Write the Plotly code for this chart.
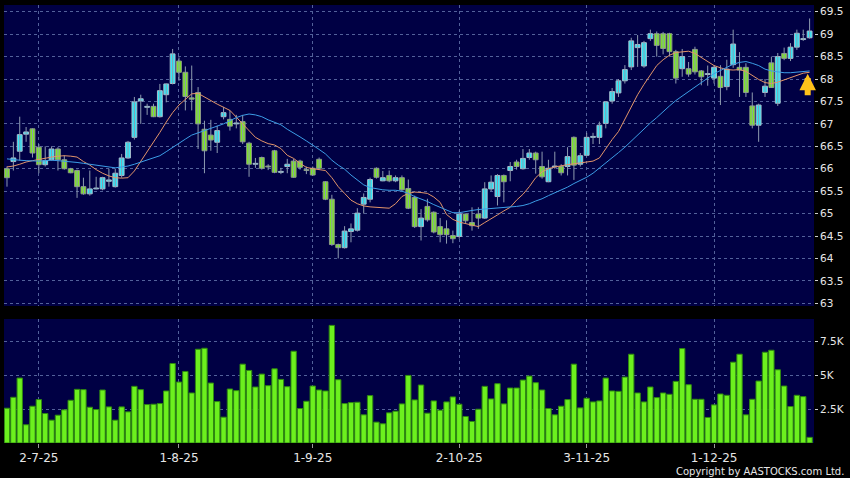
import plotly.graph_objects as go
from plotly.subplots import make_subplots

# daily candles, oldest first (one entry per trading day)
opens = [66.0, 66.16, 66.39, 66.77, 66.89, 66.48, 66.09, 66.2, 66.44, 66.2,
         66.0, 65.96, 65.6, 65.44, 65.55, 65.55, 65.72, 65.6, 65.85, 66.24,
         66.7, 67.51, 67.37, 67.39, 67.16, 67.65, 67.9, 68.4, 68.15, 67.58,
         67.7, 66.88, 66.75, 66.59, 67.16, 67.1, 67.0, 67.05, 66.57, 66.1,
         66.25, 66.06, 66.4, 65.92, 66.05, 66.17, 66.17, 65.98, 66.01, 66.21,
         65.71, 65.32, 64.31, 64.24, 64.6, 64.63, 65.21, 65.32, 66.01, 65.73,
         65.85, 65.73, 65.8, 65.56, 65.36, 64.71, 65.16, 65.03, 64.71, 64.66,
         64.51, 64.49, 64.99, 64.8, 64.99, 64.9, 65.55, 65.38, 65.85, 65.96,
         66.15, 66.0, 66.25, 66.35, 66.05, 65.71, 66.04, 66.05, 66.05, 66.7,
         66.1, 66.3, 66.7, 66.7, 67.01, 67.51, 67.69, 67.96, 68.27, 68.7,
         68.29, 68.9, 69.01, 69.01, 69.01, 68.61, 68.23, 68.23, 68.66, 68.18,
         68.1, 68.02, 68.06, 67.83, 68.32, 68.26, 68.26, 67.4, 66.97, 67.7,
         68.36, 67.46, 68.57, 68.46, 68.71, 68.88, 68.92]
highs = [66.05, 66.6, 67.16, 66.93, 66.9, 66.55, 66.5, 66.5, 66.48, 66.3,
         66.02, 65.98, 65.8, 65.96, 65.82, 65.82, 66.0, 66.0, 66.33, 66.62,
         67.6, 67.65, 67.45, 67.45, 67.89, 67.9, 68.67, 68.48, 68.28, 68.3,
         67.82, 67.07, 67.09, 66.96, 67.38, 67.3, 67.2, 67.2, 66.6, 66.24,
         66.27, 66.1, 66.42, 66.02, 66.22, 66.22, 66.2, 66.05, 66.05, 66.25,
         65.72, 65.42, 64.33, 64.72, 64.78, 65.12, 65.45, 65.8, 66.03, 65.95,
         65.96, 65.85, 65.85, 65.76, 65.4, 65.1, 65.33, 65.05, 64.9, 64.85,
         64.62, 65.07, 65.0, 65.14, 65.14, 65.7, 65.85, 65.88, 65.87, 66.15,
         66.2, 66.44, 66.44, 66.38, 66.38, 66.2, 66.38, 66.1, 66.48, 66.72,
         66.35, 66.8, 66.8, 67.05, 67.5, 67.8, 68.0, 68.31, 68.92, 68.98,
         68.85, 69.1, 69.06, 69.05, 69.03, 68.65, 68.67, 68.38, 68.72, 68.2,
         68.3, 68.3, 68.31, 68.43, 69.1, 68.6, 68.35, 67.7, 67.45, 68.0,
         68.5, 68.58, 68.7, 68.8, 69.1, 69.1, 69.35]
lows = [65.6, 65.96, 66.18, 66.6, 66.25, 65.9, 66.05, 66.18, 65.96, 65.98,
        65.9, 65.35, 65.42, 65.4, 65.54, 65.52, 65.6, 65.58, 65.8, 66.22,
        66.65, 67.0, 67.2, 67.15, 67.14, 67.48, 67.88, 67.96, 67.3, 67.3,
        66.44, 65.9, 66.4, 66.35, 67.1, 66.85, 66.9, 66.55, 65.82, 66.02,
        65.98, 65.97, 65.9, 65.88, 65.9, 65.8, 65.98, 65.88, 65.84, 65.98,
        65.3, 64.28, 64.0, 64.22, 64.36, 64.6, 65.0, 65.25, 65.78, 65.72,
        65.7, 65.7, 65.5, 65.1, 64.68, 64.4, 64.82, 64.56, 64.36, 64.33,
        64.34, 64.44, 64.78, 64.62, 64.66, 64.88, 65.5, 65.18, 65.25, 65.72,
        65.98, 65.98, 66.2, 65.89, 65.78, 65.7, 66.0, 65.85, 65.85, 65.75,
        66.05, 66.28, 66.55, 66.55, 66.9, 67.45, 67.6, 67.9, 68.2, 68.27,
        68.25, 68.85, 68.5, 68.55, 68.5, 67.9, 68.05, 68.05, 68.1, 67.86,
        67.85, 67.9, 67.42, 67.75, 68.25, 67.6, 67.6, 66.9, 66.6, 67.6,
        67.8, 67.4, 68.42, 68.4, 68.65, 68.85, 68.9]
closes = [65.8, 66.24, 66.76, 66.82, 66.35, 66.09, 66.18, 66.44, 66.2, 66.0,
          65.91, 65.6, 65.44, 65.55, 65.55, 65.8, 65.75, 65.9, 66.24, 66.59,
          67.49, 67.56, 67.37, 67.16, 67.74, 67.89, 68.56, 68.15, 67.61, 67.55,
          67.0, 66.4, 66.64, 66.85, 67.25, 66.95, 67.0, 66.6, 66.1, 66.1,
          66.01, 66.04, 65.92, 65.93, 66.1, 65.81, 66.03, 65.96, 65.86, 66.01,
          65.32, 64.31, 64.24, 64.61, 64.66, 65.01, 65.36, 65.76, 65.81, 65.8,
          65.73, 65.8, 65.53, 65.12, 64.71, 64.9, 64.86, 64.59, 64.53, 64.53,
          64.44, 64.99, 64.84, 64.73, 64.9, 65.55, 65.7, 65.85, 65.71, 66.05,
          66.05, 66.23, 66.35, 66.2, 65.82, 66.01, 66.05, 65.91, 66.27, 66.08,
          66.29, 66.7, 66.72, 66.97, 67.49, 67.72, 67.96, 68.21, 68.85, 68.77,
          68.81, 69.01, 68.75, 68.68, 68.61, 68.02, 68.5, 68.11, 68.16, 68.05,
          68.12, 68.26, 67.81, 68.22, 68.78, 68.2, 67.7, 66.97, 67.42, 67.84,
          67.81, 68.5, 68.46, 68.71, 69.02, 68.9, 69.07]

volumes = [2573, 3381, 4802, 1348, 2720, 3210, 2180, 1690, 2058, 2450,
           3160, 3969, 3945, 2646, 2475, 3920, 2670, 1690, 2670, 2303,
           4190, 3945, 2842, 2867, 2916, 3847, 5880, 4508, 5292, 3700,
           6934, 7007, 4435, 3063, 1911, 3994, 3871, 5831, 5366, 4141,
           5096, 4239, 5488, 4704, 4165, 6787, 2548, 3087, 4214, 3920,
           3847, 8698, 4680, 2916, 2989, 3014, 2083, 3504, 1544, 1421,
           2230, 2352, 2891, 4998, 3185, 4288, 2205, 3112, 2426, 3038,
           3406, 2867, 1960, 1593, 2499, 4190, 3259, 4386, 2891, 4067,
           4067, 4655, 4949, 4459, 3920, 2548, 2083, 2720, 3210, 5831,
           2597, 3308, 3038, 3112, 4802, 3847, 3822, 4876, 6566, 3700,
           3038, 4141, 3357, 3700, 3602, 4557, 6983, 4312, 3234, 3234,
           1887, 2818, 3626, 3528, 5978, 6566, 2083, 3234, 4582, 6713,
           6860, 5415, 4214, 2695, 3528, 3430, 417]

ma_short = [66.04, 66.06, 66.1, 66.15, 66.18, 66.21, 66.24, 66.26, 66.28, 66.29,
            66.28, 66.26, 66.16, 66.08, 65.98, 65.9, 65.84, 65.8, 65.79, 65.8,
            65.95, 66.16, 66.37, 66.59, 66.81, 67.04, 67.25, 67.42, 67.55, 67.67,
            67.68, 67.6, 67.51, 67.44, 67.37, 67.3, 67.15, 67.0, 66.84, 66.7,
            66.62, 66.56, 66.53, 66.45, 66.3, 66.23, 66.12, 66.03, 66.0, 65.98,
            65.96, 65.8, 65.6, 65.45, 65.3, 65.22, 65.17, 65.15, 65.14, 65.12,
            65.12, 65.22, 65.38, 65.45, 65.48, 65.47, 65.45, 65.37, 65.25, 64.98,
            64.87, 64.81, 64.78, 64.75, 64.71, 64.8, 64.88, 64.97, 65.06, 65.14,
            65.3, 65.43, 65.6, 65.8, 65.93, 66.0, 66.04, 66.07, 66.09, 66.11,
            66.13, 66.14, 66.17, 66.24, 66.45, 66.65, 66.83, 67.1, 67.35, 67.65,
            67.88, 68.1, 68.3, 68.43, 68.53, 68.59, 68.61, 68.62, 68.57, 68.48,
            68.39, 68.3, 68.25, 68.21, 68.2, 68.21, 68.17, 68.08, 67.99, 67.92,
            67.9, 67.93, 67.98, 68.03, 68.08, 68.13, 68.15]
ma_long = [66.22, 66.2, 66.19, 66.18, 66.17, 66.17, 66.18, 66.19, 66.18, 66.17,
           66.16, 66.14, 66.12, 66.1, 66.07, 66.05, 66.03, 66.02, 66.04, 66.06,
           66.1, 66.15, 66.2, 66.25, 66.29, 66.38, 66.48, 66.58, 66.66, 66.75,
           66.8, 66.85, 66.9, 66.94, 67.0, 67.07, 67.14, 67.19, 67.22, 67.2,
           67.16, 67.09, 67.04, 66.98, 66.88, 66.8, 66.71, 66.62, 66.53, 66.43,
           66.33, 66.19, 66.08, 65.99, 65.86, 65.74, 65.64, 65.58, 65.55, 65.53,
           65.52, 65.52, 65.5, 65.45, 65.38, 65.33, 65.27, 65.2, 65.14, 65.08,
           65.02, 65.02, 65.05, 65.07, 65.09, 65.1, 65.12, 65.12, 65.13, 65.14,
           65.16, 65.18, 65.22, 65.28, 65.33, 65.4, 65.46, 65.53, 65.59, 65.67,
           65.74, 65.81, 65.9, 66.01, 66.12, 66.25, 66.36, 66.48, 66.62, 66.75,
           66.88, 67.02, 67.14, 67.28, 67.4, 67.52, 67.62, 67.71, 67.8, 67.92,
           68.01, 68.12, 68.19, 68.26, 68.33, 68.37, 68.39, 68.35, 68.3, 68.22,
           68.18, 68.16, 68.14, 68.14, 68.15, 68.17, 68.18]

# month-start trading days and their labels
date_ticks = [5, 27, 48, 71, 91, 111]
date_labels = ["2-7-25", "1-8-25", "1-9-25", "2-10-25", "3-11-25", "1-12-25"]
price_ticks = [63 + 0.5 * k for k in range(14)]
vol_ticks = [2500, 5000, 7500]
vol_labels = ["2.5K", "5K", "7.5K"]

days = list(range(len(closes)))

GRID = "#53619a"
TXT = "#e6e6e6"
FONT = "DejaVu Sans"
UP_FILL, UP_EDGE = "#30e6f6", "#a8bccb"
DN_FILL, DN_EDGE = "#7de626", "#8c9a86"

# candle bodies drawn as floating bars so their width can be set
up = [c >= o for o, c in zip(opens, closes)]
body_base = [min(o, c) for o, c in zip(opens, closes)]
body_len = [max(abs(c - o), 0.02) for o, c in zip(opens, closes)]
wick_x, wick_y = [], []
for d, h, l in zip(days, highs, lows):
    wick_x += [d, d, None]
    wick_y += [l, h, None]

fig = make_subplots(rows=2, cols=1, shared_xaxes=True)

fig.add_trace(go.Scatter(x=wick_x, y=wick_y, mode="lines",
                         line=dict(color="#8e9bb0", width=1),
                         showlegend=False, hoverinfo="skip"), row=1, col=1)
fig.add_trace(go.Bar(x=days, y=body_len, base=body_base, width=0.76,
                     marker=dict(color=[UP_FILL if u else DN_FILL for u in up],
                                 line=dict(color=[UP_EDGE if u else DN_EDGE for u in up],
                                           width=1)),
                     showlegend=False, hoverinfo="skip"), row=1, col=1)

fig.add_trace(go.Scatter(x=days, y=ma_short, mode="lines",
                         line=dict(color="#e3956a", width=1),
                         showlegend=False, hoverinfo="skip"), row=1, col=1)
fig.add_trace(go.Scatter(x=days, y=ma_long, mode="lines",
                         line=dict(color="#3c9de6", width=1),
                         showlegend=False, hoverinfo="skip"), row=1, col=1)

fig.add_trace(go.Bar(x=days, y=volumes, width=0.84,
                     marker=dict(color="#6cf01e", line=dict(color="#2f8a10", width=1)),
                     showlegend=False, hoverinfo="skip"), row=2, col=1)

xrange = [-0.47, len(days) - 0.31]
xcommon = dict(range=xrange, tickvals=date_ticks, showgrid=True, gridcolor=GRID,
               griddash="3px,3px", gridwidth=1, zeroline=False, showline=False)
fig.update_xaxes(**xcommon)
fig.update_xaxes(showticklabels=False, ticks="", row=1, col=1)
fig.update_xaxes(ticktext=date_labels, ticks="outside", ticklen=4, tickcolor="#9a9a9a",
                 tickfont=dict(family=FONT, size=12, color=TXT), row=2, col=1)

ycommon = dict(side="right", showgrid=True, gridcolor=GRID, griddash="3px,3px",
               gridwidth=1, zeroline=False, showline=False, ticks="outside",
               ticklen=3, tickcolor="#cfcfcf",
               tickfont=dict(family=FONT, size=10.5, color=TXT))
fig.update_yaxes(**ycommon)
fig.update_yaxes(domain=[0.3128, 1.0], range=[62.94, 69.65], tickvals=price_ticks,
                 ticktext=[f"{v:g}" for v in price_ticks], row=1, col=1)
fig.update_yaxes(domain=[0.0, 0.2831], range=[0, 9170], tickvals=vol_ticks,
                 ticktext=vol_labels, row=2, col=1)

# yellow "latest" arrow beside the last candle
fig.add_annotation(x=len(days) - 1.3, y=68.12, xref="x", yref="y", text="",
                   showarrow=True, ax=0, ay=23, arrowhead=2, arrowsize=0.55,
                   arrowwidth=6, arrowcolor="#ffc21a")
fig.add_annotation(x=1.04, y=-0.064, xref="paper", yref="paper",
                   xanchor="right", yanchor="middle", showarrow=False,
                   text="Copyright by AASTOCKS.com Ltd.",
                   font=dict(family=FONT, size=10, color=TXT))

fig.update_layout(
    width=850, height=478, autosize=False,
    margin=dict(l=4, r=36, t=5, b=35),
    paper_bgcolor="#000000", plot_bgcolor="#000044",
    barmode="overlay", showlegend=False,
    font=dict(family=FONT, color=TXT),
)

fig.write_html("out.html", config={"displayModeBar": False},
               post_script="document.body.style.margin='0';")
